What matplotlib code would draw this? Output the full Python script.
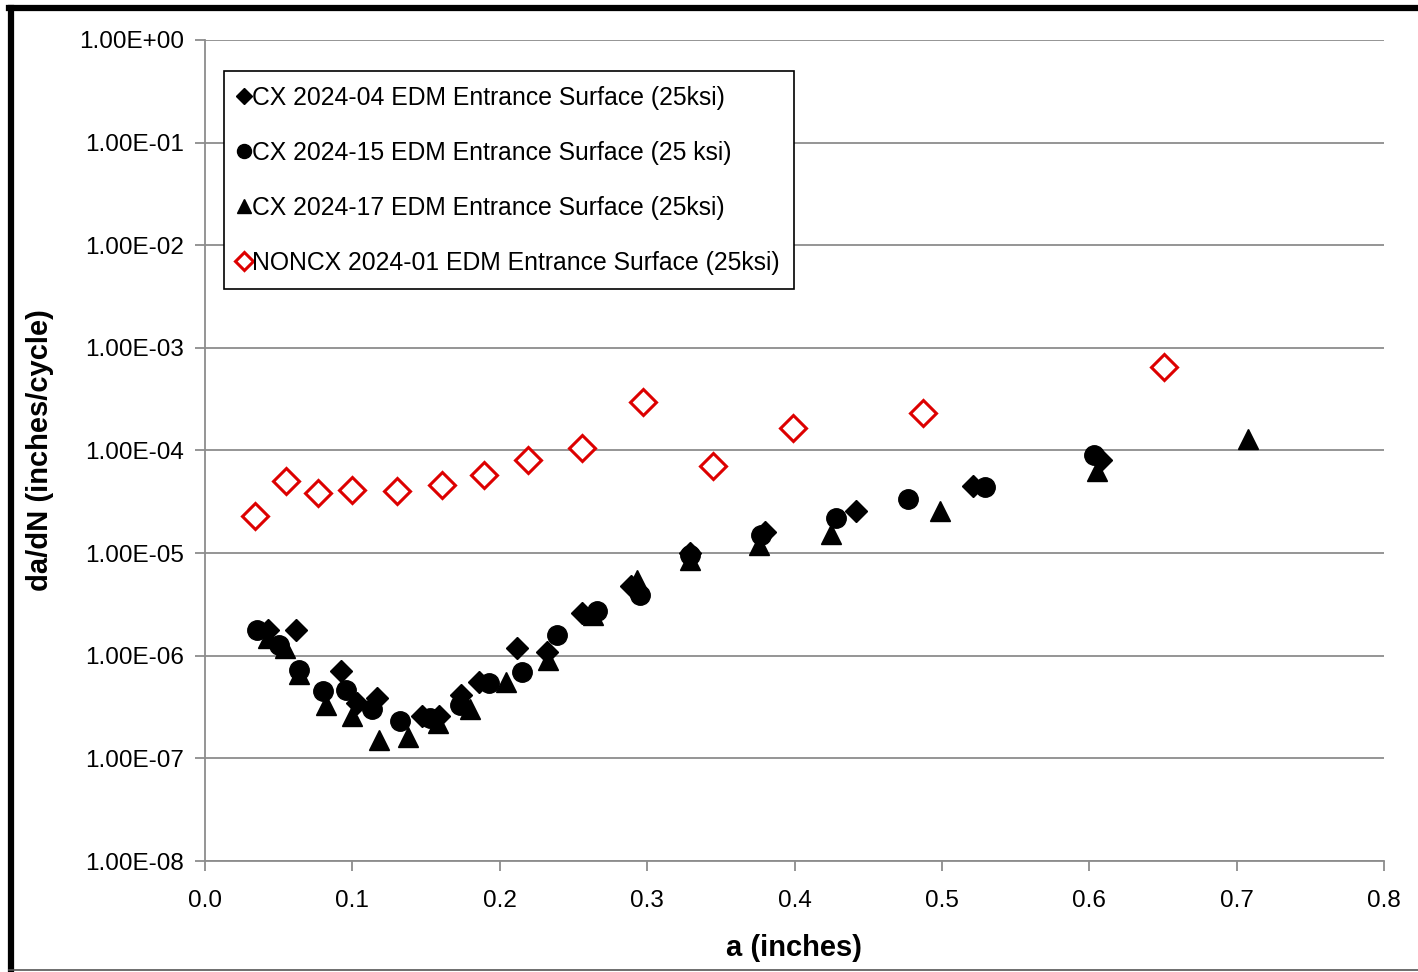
import matplotlib
matplotlib.use("Agg")
import matplotlib.pyplot as plt
from matplotlib.lines import Line2D
from matplotlib.ticker import FixedLocator, FuncFormatter, NullLocator

plt.rcParams['font.family'] = ['Liberation Sans', 'DejaVu Sans']

# CX 2024-04 (diamonds)
a_04 = [0.043, 0.062, 0.092, 0.103, 0.117, 0.147, 0.159, 0.174, 0.186, 0.212, 0.232,
        0.256, 0.289, 0.329, 0.380, 0.442, 0.521, 0.608]
r_04 = [1.8e-6, 1.8e-6, 7.1e-7, 3.5e-7, 3.9e-7, 2.6e-7, 2.6e-7, 4.1e-7, 5.6e-7, 1.2e-6, 1.1e-6,
        2.6e-6, 4.8e-6, 1.0e-5, 1.6e-5, 2.6e-5, 4.5e-5, 8.1e-5]
# CX 2024-15 (circles)
a_15 = [0.035, 0.050, 0.064, 0.080, 0.096, 0.113, 0.132, 0.153, 0.173, 0.193, 0.215,
        0.239, 0.266, 0.295, 0.329, 0.377, 0.428, 0.477, 0.529, 0.603]
r_15 = [1.8e-6, 1.26e-6, 7.3e-7, 4.5e-7, 4.6e-7, 3.0e-7, 2.3e-7, 2.5e-7, 3.3e-7, 5.4e-7, 6.9e-7,
        1.6e-6, 2.7e-6, 3.9e-6, 9.5e-6, 1.5e-5, 2.2e-5, 3.4e-5, 4.4e-5, 9.0e-5]
# CX 2024-17 (triangles)
a_17 = [0.043, 0.054, 0.064, 0.082, 0.100, 0.118, 0.138, 0.158, 0.180, 0.204, 0.233,
        0.263, 0.293, 0.329, 0.376, 0.425, 0.499, 0.605, 0.708]
r_17 = [1.5e-6, 1.2e-6, 6.6e-7, 3.3e-7, 2.6e-7, 1.5e-7, 1.6e-7, 2.2e-7, 3.0e-7, 5.6e-7, 9.0e-7,
        2.5e-6, 5.5e-6, 8.6e-6, 1.2e-5, 1.55e-5, 2.6e-5, 6.3e-5, 1.3e-4]
# NONCX 2024-01 (open red diamonds)
a_n01 = [0.034, 0.055, 0.077, 0.100, 0.130, 0.161, 0.189, 0.219, 0.256, 0.297, 0.345,
         0.399, 0.487, 0.651]
r_n01 = [2.3e-5, 5.0e-5, 3.85e-5, 4.1e-5, 4.0e-5, 4.6e-5, 5.8e-5, 8.1e-5, 1.05e-4, 3.0e-4, 7.0e-5,
         1.65e-4, 2.3e-4, 6.5e-4]

labels = ["CX 2024-04 EDM Entrance Surface (25ksi)",
          "CX 2024-15 EDM Entrance Surface (25 ksi)",
          "CX 2024-17 EDM Entrance Surface (25ksi)",
          "NONCX 2024-01 EDM Entrance Surface (25ksi)"]
x_ticks = [0.0, 0.1, 0.2, 0.3, 0.4, 0.5, 0.6, 0.7, 0.8]
y_ticks = [1e-8, 1e-7, 1e-6, 1e-5, 1e-4, 1e-3, 1e-2, 1e-1, 1e0]

fig = plt.figure(figsize=(14.18, 9.72), dpi=100)
ax = fig.add_axes([205/1418, 1-861/972, (1384-205)/1418, (861-40)/972])

ax.plot(a_04, r_04, linestyle='none', marker='D', ms=11, color='black', label=labels[0])
ax.plot(a_15, r_15, linestyle='none', marker='o', ms=14, color='black', label=labels[1])
ax.plot(a_17, r_17, linestyle='none', marker='^', ms=14, color='black', label=labels[2])
ax.plot(a_n01, r_n01, linestyle='none', marker='D', ms=13, mfc='white', mec='#dd0000', mew=2.2,
        label=labels[3])

ax.set_yscale('log')
ax.set_xlim(0, 0.8)
ax.set_ylim(1e-8, 1e0)
ax.xaxis.set_major_locator(FixedLocator(x_ticks))
ax.xaxis.set_major_formatter(FuncFormatter(lambda v, p: f"{v:.1f}"))
ax.yaxis.set_major_locator(FixedLocator(y_ticks))
ax.yaxis.set_minor_locator(NullLocator())
ax.yaxis.set_major_formatter(FuncFormatter(lambda v, p: f"{v:.2E}"))

ax.grid(axis='y', color='#8c8c8c', linewidth=1.3)
ax.set_axisbelow(True)
for s in ['top', 'right']:
    ax.spines[s].set_visible(False)
for s in ['left', 'bottom']:
    ax.spines[s].set_color('#8c8c8c')
    ax.spines[s].set_linewidth(1.3)
ax.tick_params(axis='both', direction='out', length=7, width=1.3, color='#8c8c8c',
               labelsize=17.5, labelcolor='black')
ax.tick_params(axis='x', pad=14)
ax.tick_params(axis='y', pad=8)

ax.set_xlabel("a (inches)", fontsize=21, fontweight='bold', labelpad=16)
ax.set_ylabel("da/dN (inches/cycle)", fontsize=21, fontweight='bold', labelpad=18)

leg = ax.legend(loc='upper left', bbox_to_anchor=((224-205)/1179, 1-(71-40)/821),
                fontsize=17.8, frameon=True, fancybox=False, edgecolor='black',
                handlelength=0.4, handletextpad=0.12, labelspacing=1.25,
                borderpad=0.6, borderaxespad=0, markerscale=0.72, framealpha=1)
leg.get_frame().set_linewidth(1.2)

# figure frame
fig.add_artist(Line2D([11/1418, 11/1418], [0.0, 1-8/972], transform=fig.transFigure,
                      color='black', linewidth=4.5))
fig.add_artist(Line2D([9/1418, 1.0], [1-8/972, 1-8/972], transform=fig.transFigure,
                      color='black', linewidth=4.5))
fig.add_artist(Line2D([9/1418, 1.0], [1-970/972, 1-970/972], transform=fig.transFigure,
                      color='#555555', linewidth=1.2))

fig.savefig("out.png", dpi=100)
